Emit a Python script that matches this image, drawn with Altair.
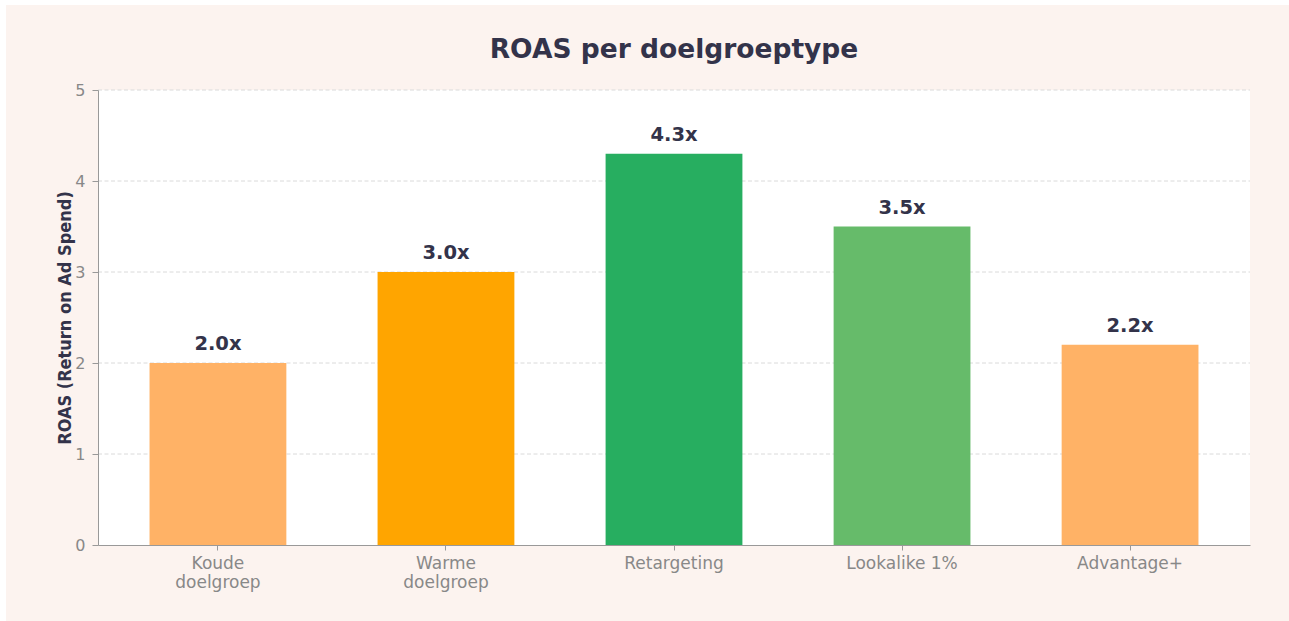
import altair as alt
import pandas as pd

# ---- data ----
categories = ["Koude\ndoelgroep", "Warme\ndoelgroep", "Retargeting", "Lookalike 1%", "Advantage+"]
roas = [2.0, 3.0, 4.3, 3.5, 2.2]
colors = ["#FFB266", "#FFA500", "#27AE60", "#66BB6A", "#FFB266"]
y_ticks = [0, 1, 2, 3, 4, 5]
grid_vals = [1, 2, 3, 4, 5]
title_text = "ROAS per doelgroeptype"
y_title = "ROAS (Return on Ad Spend)"

W, H = 1152, 455
PINK = "#FCF3EF"
DARK = "#33334A"
GRAY = "#888888"

df = pd.DataFrame({"cat": categories, "ROAS": roas, "color": colors})
grid_df = pd.DataFrame({"ROAS": grid_vals})
one = pd.DataFrame({"t": [title_text]})

yscale = alt.Scale(domain=[0, 5], nice=False, zero=True)
xscale = alt.Scale(domain=categories, paddingInner=0.4, paddingOuter=0.226)

yaxis = alt.Axis(title=y_title, values=y_ticks, labelFontSize=16, labelColor=GRAY,
                 labelPadding=7, domainColor="#999999", tickColor="#999999",
                 tickSize=6, grid=False, zindex=1,
                 titleFont="DejaVu Sans Condensed", titleFontSize=18,
                 titleFontWeight="bold", titleColor=DARK, titleAngle=270,
                 titleX=-28, titleY=H / 2, titleBaseline="alphabetic",
                 titleAlign="center")
xaxis = alt.Axis(title=None, labelAngle=0, labelFontSize=17, labelColor=GRAY,
                 labelLineHeight=19, labelPadding=5,
                 labelExpr="split(datum.label, '\\n')",
                 domainColor="#999999", tickColor="#999999", tickSize=5,
                 grid=False, zindex=1)

bg = alt.Chart(one).mark_rect(color=PINK).encode(
    x=alt.value(-92), x2=alt.value(W + 39), y=alt.value(-85), y2=alt.value(H + 76)
)
plotbg = alt.Chart(one).mark_rect(color="white").encode(
    x=alt.value(0), x2=alt.value(W), y=alt.value(0), y2=alt.value(H)
)
grid = alt.Chart(grid_df).mark_rule(color="#DADADA", strokeDash=[4, 2.5], strokeWidth=1).encode(
    y=alt.Y("ROAS:Q", scale=yscale, axis=yaxis, title=y_title),
    x=alt.value(0), x2=alt.value(W),
)

bars = alt.Chart(df).mark_bar().encode(
    x=alt.X("cat:N", scale=xscale, sort=categories, axis=xaxis),
    y=alt.Y("ROAS:Q", scale=yscale, axis=yaxis, title=y_title),
    color=alt.Color("color:N", scale=None),
)

labels = alt.Chart(df).transform_calculate(
    lab="format(datum.ROAS, '.1f') + 'x'"
).mark_text(fontSize=19.5, fontWeight="bold", color=DARK, baseline="alphabetic", dy=-12.6).encode(
    x=alt.X("cat:N", scale=xscale, sort=categories, axis=xaxis),
    y=alt.Y("ROAS:Q", scale=yscale, axis=yaxis, title=y_title),
    text="lab:N",
)

title = alt.Chart(one).mark_text(fontSize=26.5, fontWeight="bold", color=DARK,
                                 baseline="alphabetic", align="center").encode(
    x=alt.value(W / 2), y=alt.value(-32), text="t:N"
)

chart = alt.layer(bg, plotbg, grid, bars, labels, title).properties(
    width=W, height=H,
    autosize=alt.AutoSizeParams(type="none"),
    padding={"left": 98, "top": 90, "right": 39, "bottom": 76},
    background="white",
).configure(font="DejaVu Sans").configure_view(stroke=None)

chart.save("out.html", embed_options={"renderer": "svg", "actions": False})
